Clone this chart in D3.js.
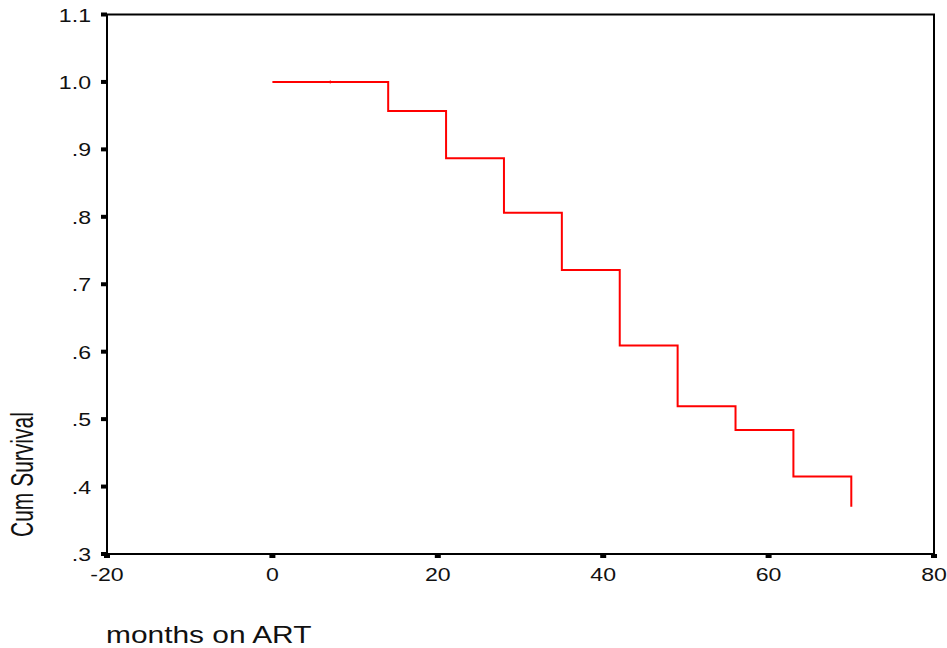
<!DOCTYPE html>
<html>
<head>
<meta charset="utf-8">
<script src="https://cdn.jsdelivr.net/npm/d3@7"></script>
<style>
  html, body { margin: 0; padding: 0; background: #fff; }
  svg { display: block; }
  text { font-family: "Liberation Sans", Arial, sans-serif; fill: #111; }
</style>
</head>
<body>
<div id="chart"></div>
<script>
// survival estimates
const months   = [0, 14, 21, 28, 35, 42, 49, 56, 63, 70];
const survival = [1.0, 0.957, 0.887, 0.806, 0.721, 0.609, 0.519, 0.484, 0.415, 0.370];
const censoredMonths = [7];
const xTicks = [-20, 0, 20, 40, 60, 80];
const yTicks = [0.3, 0.4, 0.5, 0.6, 0.7, 0.8, 0.9, 1.0, 1.1];

const width = 947, height = 648;
const margin = { top: 14.5, right: 13, bottom: 94, left: 107 };

const svg = d3.select('#chart')
  .append('svg')
  .attr('width', width)
  .attr('height', height);

const x = d3.scaleLinear().domain([-20, 80]).range([margin.left, width - margin.right]);
const y = d3.scaleLinear().domain([0.3, 1.1]).range([height - margin.bottom, margin.top]);

const fmtY = d => d >= 1 ? d.toFixed(1) : d.toFixed(1).replace(/^0/, '');

// stretch factor, the source picture is wider than it is tall
const sx = 1.25;

// y ticks + labels
const yAxis = svg.append('g').attr('class', 'y-axis');
yAxis.selectAll('rect')
  .data(yTicks)
  .join('rect')
  .attr('x', margin.left - 6)
  .attr('y', d => y(d) - 2)
  .attr('width', 6)
  .attr('height', 4)
  .attr('fill', '#000');
yAxis.selectAll('text')
  .data(yTicks)
  .join('text')
  .attr('transform', d => `translate(91, ${y(d) + 7}) scale(${sx},1)`)
  .attr('text-anchor', 'end')
  .style('font-size', '18.5px')
  .text(fmtY);

// x ticks + labels
const xAxis = svg.append('g').attr('class', 'x-axis');
xAxis.selectAll('rect')
  .data(xTicks)
  .join('rect')
  .attr('x', d => x(d) - 3)
  .attr('y', y(0.3))
  .attr('width', 6)
  .attr('height', 4)
  .attr('fill', '#000');
xAxis.selectAll('text')
  .data(xTicks)
  .join('text')
  .attr('transform', d => `translate(${x(d)}, 581) scale(${sx},1)`)
  .attr('text-anchor', 'middle')
  .style('font-size', '18.5px')
  .text(d => d);

// frame
svg.append('rect')
  .attr('x', x(-20))
  .attr('y', y(1.1))
  .attr('width', x(80) - x(-20))
  .attr('height', y(0.3) - y(1.1))
  .attr('fill', 'none')
  .attr('stroke', '#000')
  .attr('stroke-width', 2);

// survival step curve
const pts = months.map((m, i) => [m, survival[i]]);
const line = d3.line()
  .x(d => x(d[0]))
  .y(d => y(d[1]))
  .curve(d3.curveStepAfter);

svg.append('path')
  .datum(pts)
  .attr('d', line)
  .attr('fill', 'none')
  .attr('stroke', '#ff0000')
  .attr('stroke-width', 2);

// censor marks
const stepValue = m => {
  let v = survival[0];
  months.forEach((t, i) => { if (t <= m) v = survival[i]; });
  return v;
};
svg.selectAll('.censor')
  .data(censoredMonths)
  .join('line')
  .attr('class', 'censor')
  .attr('x1', d => x(d)).attr('x2', d => x(d))
  .attr('y1', d => y(stepValue(d)) - 1.5)
  .attr('y2', d => y(stepValue(d)) + 1.5)
  .attr('stroke', '#ff0000')
  .attr('stroke-width', 1);

// axis titles
svg.append('text')
  .attr('transform', `translate(106, 643) scale(1.3,1)`)
  .style('font-size', '23px')
  .text('months on ART');

svg.append('text')
  .attr('transform', `translate(33, 537) scale(1.45,1) rotate(-90)`)
  .attr('text-anchor', 'start')
  .style('font-size', '21px')
  .text('Cum Survival');
</script>
</body>
</html>
